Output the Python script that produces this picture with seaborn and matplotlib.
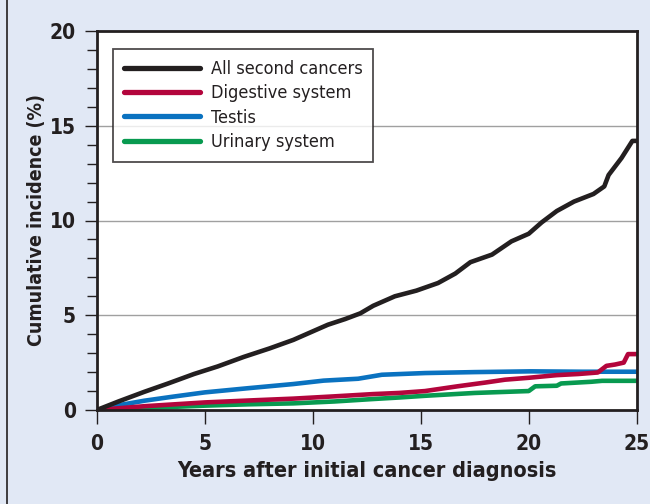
import numpy as np
import pandas as pd
import matplotlib
matplotlib.use("Agg")
import matplotlib.pyplot as plt
from matplotlib.lines import Line2D
import seaborn as sns

# ---- data ----
all_x = [0, 1.0, 2.2, 3.3, 4.5, 5.6, 6.8, 8.0, 9.1, 10.0, 10.7, 11.5, 12.2, 12.8, 13.8, 14.8, 15.8, 16.6,
         17.3, 18.3, 19.2, 20.0, 20.6, 21.3, 22.1, 23.0, 23.5, 23.7, 24.3, 24.8, 25.0]
all_y = [0, 0.45, 0.96, 1.4, 1.9, 2.3, 2.8, 3.25, 3.7, 4.15, 4.5, 4.8, 5.1, 5.5, 6.0, 6.3, 6.7, 7.2,
         7.8, 8.2, 8.9, 9.3, 9.9, 10.5, 11.0, 11.4, 11.8, 12.4, 13.3, 14.2, 14.2]

dig_x = [0, 2.2, 5.0, 7.0, 9.1, 11.0, 12.8, 14.0, 15.2, 16.7, 18.0, 18.9, 20.0, 21.3, 22.3, 23.2, 23.6, 24.0, 24.4, 24.6, 25.0]
dig_y = [0, 0.2, 0.4, 0.5, 0.6, 0.72, 0.84, 0.9, 1.0, 1.25, 1.45, 1.6, 1.7, 1.84, 1.9, 1.98, 2.33, 2.4, 2.5, 2.95, 2.95]

tes_x = [0, 1.0, 2.2, 3.5, 5.0, 7.0, 9.1, 10.5, 12.1, 13.2, 15.2, 17.5, 20.1, 22.5, 25.0]
tes_y = [0, 0.25, 0.49, 0.7, 0.93, 1.15, 1.37, 1.55, 1.65, 1.86, 1.95, 2.0, 2.04, 2.02, 2.02]

uri_x = [0, 2.5, 5.0, 7.0, 9.1, 11.0, 12.8, 14.0, 15.2, 17.5, 20.0, 20.3, 21.3, 21.5, 22.9, 23.4, 25.0]
uri_y = [0, 0.12, 0.23, 0.3, 0.35, 0.45, 0.58, 0.66, 0.75, 0.9, 1.0, 1.25, 1.28, 1.4, 1.49, 1.54, 1.54]

series_names = ["All second cancers", "Digestive system", "Testis", "Urinary system"]
series_colors = ["#231f20", "#b3053c", "#0a72c0", "#089a50"]
x_ticks = [0, 5, 10, 15, 20, 25]
y_ticks = [0, 5, 10, 15, 20]
x_label = "Years after initial cancer diagnosis"
y_label = "Cumulative incidence (%)"

frames = []
for name, xs, ys in zip(series_names, [all_x, dig_x, tes_x, uri_x], [all_y, dig_y, tes_y, uri_y]):
    frames.append(pd.DataFrame({"x": xs, "y": ys, "series": name}))
df = pd.concat(frames, ignore_index=True)

sns.set_style("white")
plt.rcParams["font.family"] = ["DejaVu Sans"]
plt.rcParams["font.stretch"] = "condensed"

bg = "#e1e8f5"
ink = "#231f20"
fig = plt.figure(figsize=(6.5, 5.04), dpi=100, facecolor=bg)
ax = fig.add_axes([0.149, 0.1865, 0.8305, 0.752])
ax.set_facecolor("white")

palette = dict(zip(series_names, series_colors))
for name in series_names[::-1]:
    sub = df[df["series"] == name]
    sns.lineplot(data=sub, x="x", y="y", color=palette[name], lw=3.3, ax=ax,
                 estimator=None, sort=False, legend=False, solid_capstyle="round")

ax.set_xlim(0, 25)
ax.set_ylim(0, 20)
ax.set_xticks(x_ticks)
ax.set_yticks(y_ticks)
ax.set_yticks(np.arange(0, 21, 1), minor=True)
ax.set_xticklabels([str(t) for t in x_ticks], fontsize=15, fontweight="bold", color=ink, fontstretch="condensed")
ax.set_yticklabels([str(t) for t in y_ticks], fontsize=15, fontweight="bold", color=ink, fontstretch="condensed")
ax.tick_params(axis="x", which="major", direction="out", length=10, width=1, color=ink, pad=7, bottom=True)
ax.tick_params(axis="y", which="major", direction="out", length=9, width=1, color=ink, pad=6, left=True)
ax.tick_params(axis="y", which="minor", direction="out", length=7, width=1, color=ink, left=True)
ax.tick_params(axis="x", which="minor", bottom=False)

for y in [5, 10, 15]:
    ax.axhline(y, color="#a0a0a0", lw=1.0, zorder=0)

for s in ax.spines.values():
    s.set_visible(True)
    s.set_color(ink)
    s.set_linewidth(2.0)

ax.set_xlabel(x_label, fontsize=15.5, fontweight="bold", color=ink, labelpad=5, fontstretch="condensed")
ax.set_ylabel(y_label, fontsize=14, fontweight="bold", color=ink, labelpad=3, fontstretch="condensed")

handles = [Line2D([0], [0], color=c, lw=3.8, solid_capstyle="round") for c in series_colors]
leg = ax.legend(handles, series_names, loc="upper left", bbox_to_anchor=(0.03, 0.952),
                frameon=True, fancybox=False, edgecolor=ink,
                prop={"size": 13, "stretch": "condensed"},
                handlelength=4.2, handletextpad=0.6, labelspacing=0.35, borderpad=0.6,
                borderaxespad=0.0)
leg.get_frame().set_linewidth(1.3)
for t in leg.get_texts():
    t.set_color(ink)

fig.add_artist(Line2D([7 / 650, 7 / 650], [0, 1], transform=fig.transFigure, color=ink, lw=1.2))

fig.savefig("out.png", dpi=100, facecolor=bg)
